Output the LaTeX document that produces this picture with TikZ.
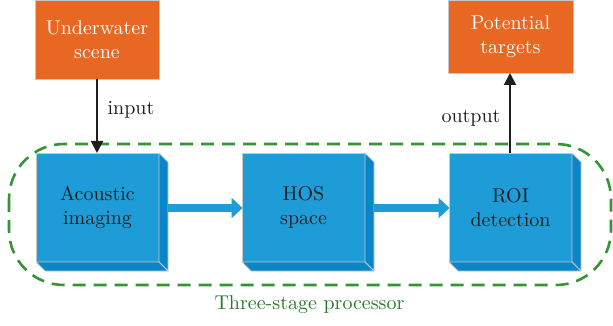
\documentclass[tikz,border=0pt]{standalone}
\usepackage{fontspec}
\setmainfont{lmroman10-regular}[Extension=.otf]
\usetikzlibrary{calc,arrows.meta}
\definecolor{orangebox}{HTML}{E86722}
\definecolor{bluefront}{HTML}{1E9CD8}
\definecolor{blueside}{HTML}{0A85C8}
\definecolor{bluearrow}{HTML}{1E9CD8}
\definecolor{edgegray}{HTML}{C8C8C8}
\definecolor{dashgreen}{HTML}{359535}
\definecolor{textgreen}{HTML}{2A7A2A}
\definecolor{darktext}{HTML}{1E1E1E}
\tikzset{
  srcbox/.style={draw=edgegray, line width=0.8pt, fill=orangebox, text=white, align=center,
    font=\fontsize{20}{24}\selectfont, inner sep=0pt, outer sep=0pt, anchor=north west},
  stagebox/.style={draw=edgegray, line width=0.8pt, fill=bluefront, text=darktext, align=center,
    font=\fontsize{20}{24}\selectfont, minimum width=123pt, minimum height=109pt,
    inner sep=0pt, outer sep=0pt, anchor=north west},
  sideface/.style={fill=blueside, draw=edgegray, line width=0.8pt, line join=round},
  blackarrow/.style={draw=darktext, line width=2pt, -{Triangle[width=12pt,length=12pt]}},
  bluearr/.style={draw=bluearrow, line width=8pt, -{Triangle[width=20pt,length=11pt]}, shorten >=-0.5pt},
  lbl/.style={font=\fontsize{20}{24}\selectfont, text=darktext, inner sep=0pt},
}
\newcommand{\sidefaces}[1]{%
  \filldraw[sideface] (#1.north east) -- ++(9,9) -- ($(#1.south east)+(9,9)$) -- (#1.south east) -- cycle;
  \filldraw[sideface] (#1.south west) -- (#1.south east) -- ++(9,9) -- ($(#1.south west)+(9,9)$) -- cycle;
}
\begin{document}
\begin{tikzpicture}[x=1pt,y=-1pt]
\useasboundingbox (0,0) rectangle (613,326);
\fill[white] (0,0) rectangle (613,326);

% green dashed container
\draw[dashgreen, line width=2.6pt, dash pattern=on 13pt off 8pt, rounded corners=55pt]
  (9,144) rectangle (611,285);
\node[lbl, text=textgreen] (proc) at (309.5,305) {Three-stage processor};

% source / target boxes
\node[srcbox, minimum width=124pt, minimum height=79pt] (scene) at (35,0) {Underwater\\scene};
\node[srcbox, minimum width=125pt, minimum height=73pt] (targets) at (448,0) {Potential\\targets};

% stage boxes
\node[stagebox] (acoustic) at (36,153) {Acoustic\\imaging};
\node[stagebox] (hos) at (242,153) {HOS\\space};
\node[stagebox] (roi) at (449,153) {ROI\\detection};
\sidefaces{acoustic}
\sidefaces{hos}
\sidefaces{roi}

% blue arrows between stages
\coordinate (a1) at ($(acoustic.east)+(9,0.5)$);
\coordinate (a2) at ($(hos.east)+(9,0.5)$);
\draw[bluearr] (a1) -- (a1 -| hos.west);
\draw[bluearr] (a2) -- (a2 -| roi.west);

% input / output arrows
\draw[blackarrow] (scene.south) -- (scene.south |- acoustic.north);
\coordinate (outx) at (510,0);
\draw[blackarrow] (outx |- roi.north) -- (outx |- targets.south);
\node[lbl] (inlbl) at (131,110) {input};
\node[lbl] (outlbl) at (471,118) {output};
\end{tikzpicture}
\end{document}
